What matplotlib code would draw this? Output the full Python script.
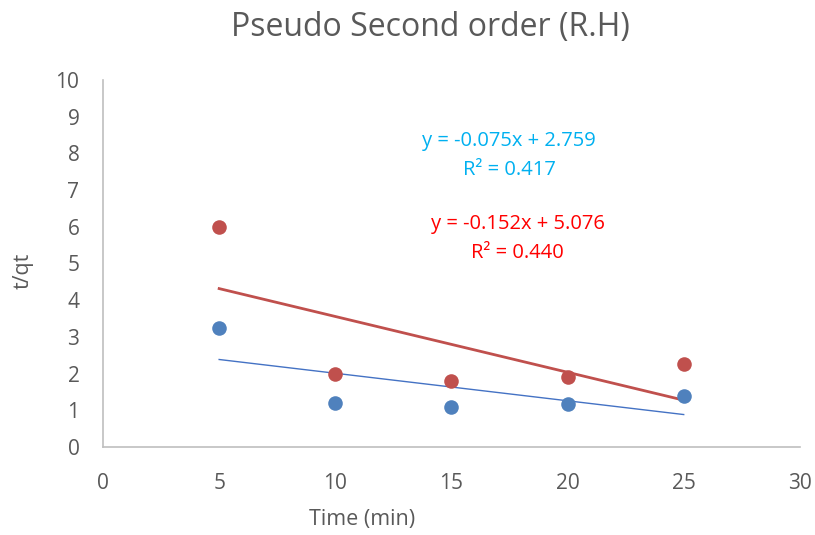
import numpy as np
import matplotlib
matplotlib.use("Agg")
import matplotlib.pyplot as plt

plt.rcParams['font.family'] = ['Open Sans', 'DejaVu Sans']

# données
temps = [5, 10, 15, 20, 25]
tqt_bleu = [3.25, 1.2, 1.1, 1.18, 1.39]
tqt_rouge = [6.0, 1.98, 1.79, 1.92, 2.25]

# droites de tendance (équations affichées)
pente_bleu, ordo_bleu = -0.075, 2.759
pente_rouge, ordo_rouge = -0.152, 5.076
eq_bleu = "y = -0.075x + 2.759\nR² = 0.417"
eq_rouge = "y = -0.152x + 5.076\nR² = 0.440"

fig = plt.figure(figsize=(8.15, 5.35), dpi=100)
ax = fig.add_axes([0.1264, 0.1645, 0.855, 0.686])

x = np.array(temps)
ax.plot(x, pente_bleu * x + ordo_bleu, color="#4472C4", lw=1.0, zorder=2)
ax.plot(x, pente_rouge * x + ordo_rouge, color="#C0504D", lw=2.0, zorder=2)
ax.scatter(temps, tqt_bleu, s=110, color="#4F81BD", zorder=3, linewidths=0)
ax.scatter(temps, tqt_rouge, s=110, color="#C0504D", zorder=3, linewidths=0)

ax.text(0.583, 0.794, eq_bleu, transform=ax.transAxes, ha="center", va="center",
        color="#00B0F0", fontsize=14.5, linespacing=1.6)
ax.text(0.595, 0.567, eq_rouge, transform=ax.transAxes, ha="center", va="center",
        color="#FF0000", fontsize=14.5, linespacing=1.6)

ax.set_xlim(0, 30)
ax.set_ylim(0, 10)
ax.set_xticks(range(0, 31, 5))
ax.set_yticks(range(0, 11))
for s in ["top", "right"]:
    ax.spines[s].set_visible(False)
for s in ["left", "bottom"]:
    ax.spines[s].set_color("#BFBFBF")
    ax.spines[s].set_linewidth(1.2)
ax.tick_params(axis="x", length=0, pad=19, labelsize=15, labelcolor="#595959")
ax.tick_params(axis="y", length=0, pad=17, labelsize=15, labelcolor="#595959")

ax.set_xlabel("Time (min)", fontsize=15.5, color="#595959")
ax.xaxis.set_label_coords(0.372, -0.168)
ax.set_ylabel("t/qt", fontsize=15.5, color="#595959")
ax.yaxis.set_label_coords(-0.1, 0.48)

fig.text(0.528, 0.948, "Pseudo Second order (R.H)", ha="center", va="center",
         fontsize=23, color="#595959")

fig.savefig("out.png", dpi=100)
